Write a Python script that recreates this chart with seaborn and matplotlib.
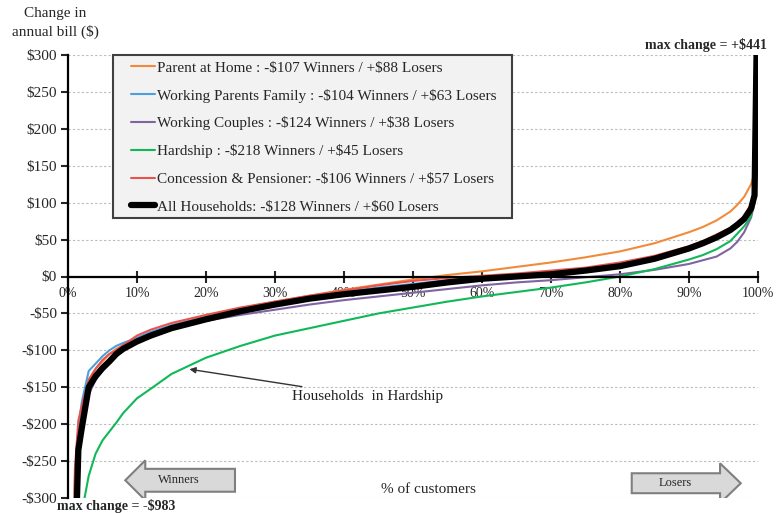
import numpy as np
import pandas as pd
import matplotlib
matplotlib.use("Agg")
import matplotlib.pyplot as plt
import seaborn as sns
from matplotlib.patches import FancyArrow, Rectangle

# percentile of customers (x) and change in annual bill (y) per group
pct = [0.5, 1, 1.5, 2, 3, 4, 5, 6, 7, 8, 10, 12, 15, 20, 25, 30, 35, 40, 45, 50,
       55, 60, 65, 70, 75, 80, 85, 90, 92, 94, 96, 97, 98, 99, 99.5, 100]

parent_home = [-600, -270, -210, -180, -140, -125, -115, -105, -98, -93, -85, -78, -66, -54, -43, -34, -26, -18, -11, -4,
               2, 7, 13, 19, 26, 34, 45, 60, 67, 76, 88, 97, 108, 125, 140, 210]
working_parents = [-600, -280, -205, -170, -128, -118, -108, -100, -94, -90, -83, -75, -66, -55, -45, -36, -28, -21, -15, -10,
                   -5, -1, 2, 5, 10, 16, 26, 40, 47, 56, 65, 72, 80, 96, 115, 280]
working_couples = [-700, -320, -240, -200, -160, -140, -128, -118, -108, -100, -90, -80, -70, -60, -52, -45, -38, -32, -27, -22,
                   -17, -12, -8, -5, -1, 3, 9, 17, 22, 27, 38, 47, 60, 80, 100, 175]
hardship = [-900, -600, -420, -320, -270, -240, -222, -210, -198, -185, -165, -152, -132, -110, -94, -80, -70, -60, -50, -42,
            -34, -27, -21, -15, -8, 0, 10, 23, 29, 37, 48, 58, 68, 82, 110, 290]
concession = [-600, -260, -195, -175, -140, -125, -113, -105, -100, -93, -80, -72, -63, -52, -42, -34, -26, -19, -12, -6,
              -2, 1, 4, 8, 12, 19, 28, 41, 48, 57, 66, 73, 82, 98, 115, 260]
all_households = [-983, -400, -235, -205, -150, -135, -124, -115, -105, -98, -88, -80, -70, -58, -47, -38, -30, -24, -19, -14,
                  -8, -3, 0, 3, 8, 14, 24, 38, 45, 53, 63, 70, 78, 92, 110, 441]

labels = [r"Parent at Home : -\$107 Winners / +\$88 Losers",
          r"Working Parents Family : -\$104 Winners / +\$63 Losers",
          r"Working Couples : -\$124 Winners / +\$38 Losers",
          r"Hardship : -\$218 Winners / +\$45 Losers",
          r"Concession & Pensioner: -\$106 Winners / +\$57 Losers",
          r"All Households: -\$128 Winners / +\$60 Losers"]
series = [parent_home, working_parents, working_couples, hardship, concession, all_households]
colors = ["#f28a3a", "#4a9fe0", "#8064a2", "#10b858", "#e8534f", "black"]
widths = [1.5, 1.5, 1.5, 1.5, 1.5, 4.5]

yticks = list(range(-300, 301, 50))
xticks = list(range(0, 101, 10))

sns.set_style("white")
plt.rcParams["font.family"] = ["Liberation Serif", "DejaVu Serif"]

fig = plt.figure(figsize=(7.82, 5.13), dpi=100)
ax = fig.add_axes([68 / 782, 1 - 498 / 513, 690 / 782, 443 / 513])

for vals, lab, col, lw in zip(series, labels, colors, widths):
    df = pd.DataFrame({"pct": pct, "val": vals})
    sns.lineplot(data=df, x="pct", y="val", color=col, lw=lw, label=lab, ax=ax)

ax.set_xlim(0, 100)
ax.set_ylim(-300, 300)
ax.set_yticks(yticks)
ax.set_yticklabels([(r"-\$%d" % -v) if v < 0 else r"\$%d" % v for v in yticks], fontsize=11)
ax.set_xticks(xticks)
ax.set_xticklabels(["%d%%" % v for v in xticks], fontsize=11)
ax.set_xlabel("")
ax.set_ylabel("")
for y in yticks:
    if y != 0:
        ax.axhline(y, color="#bbbbbb", lw=0.8, ls=(0, (2, 2)), zorder=0)

ax.spines["top"].set_visible(False)
ax.spines["right"].set_visible(False)
ax.spines["bottom"].set_position(("data", 0))
ax.spines["left"].set_linewidth(1.6)
ax.spines["bottom"].set_linewidth(1.6)
ax.spines["left"].set_color("black")
ax.spines["bottom"].set_color("black")
ax.tick_params(axis="x", direction="inout", length=9, width=1.5, pad=3, bottom=True)
ax.tick_params(axis="y", direction="out", length=5, width=1.5, pad=3, left=True)

# legend box drawn separately so the padding matches
box = Rectangle((45 / 690, 280 / 443), 399 / 690, 163 / 443, transform=ax.transAxes,
                facecolor="#f2f2f2", edgecolor="#404040", lw=1.5, zorder=4, clip_on=False)
ax.add_patch(box)
leg = ax.legend(loc="upper left", bbox_to_anchor=(63 / 690, 437 / 443), borderaxespad=0,
                fontsize=11, handlelength=1.6, handletextpad=0.1, labelspacing=0.91,
                frameon=False, borderpad=0)
leg.set_zorder(5)

ax.annotate("Households  in Hardship", xy=(17.2, -125), xytext=(32.5, -163),
            fontsize=11, va="center", ha="left", color="#222222",
            arrowprops=dict(arrowstyle="-|>", color="#333333", lw=1, mutation_scale=9))

ax.text(52.2, -289, "% of customers", fontsize=11, ha="center", va="center")

win = FancyArrow(24.2, -276, -13.0, 0, width=31, head_width=54, head_length=2.9,
                 length_includes_head=False, facecolor="#d9d9d9", edgecolor="#7f7f7f", lw=1.5, zorder=3)
ax.add_patch(win)
ax.text(16.0, -276, "Winners", fontsize=9, ha="center", va="center", zorder=4)
lose = FancyArrow(81.7, -280, 12.8, 0, width=27, head_width=54, head_length=3.0,
                  length_includes_head=False, facecolor="#d9d9d9", edgecolor="#7f7f7f", lw=1.5, zorder=3)
ax.add_patch(lose)
ax.text(88.0, -280, "Losers", fontsize=9, ha="center", va="center", zorder=4)

fig.text(55 / 782, 1 - 23 / 513, "Change in\nannual bill ($)", fontsize=11, ha="center", va="center",
         linespacing=1.5)
fig.text(767 / 782, 1 - 45 / 513, r"max change = +\$441", fontsize=10, weight="bold", ha="right", va="center")
fig.text(57 / 782, 1 - 506 / 513, r"max change = -\$983", fontsize=10, weight="bold", ha="left", va="center")

fig.savefig("out.png", dpi=100)
